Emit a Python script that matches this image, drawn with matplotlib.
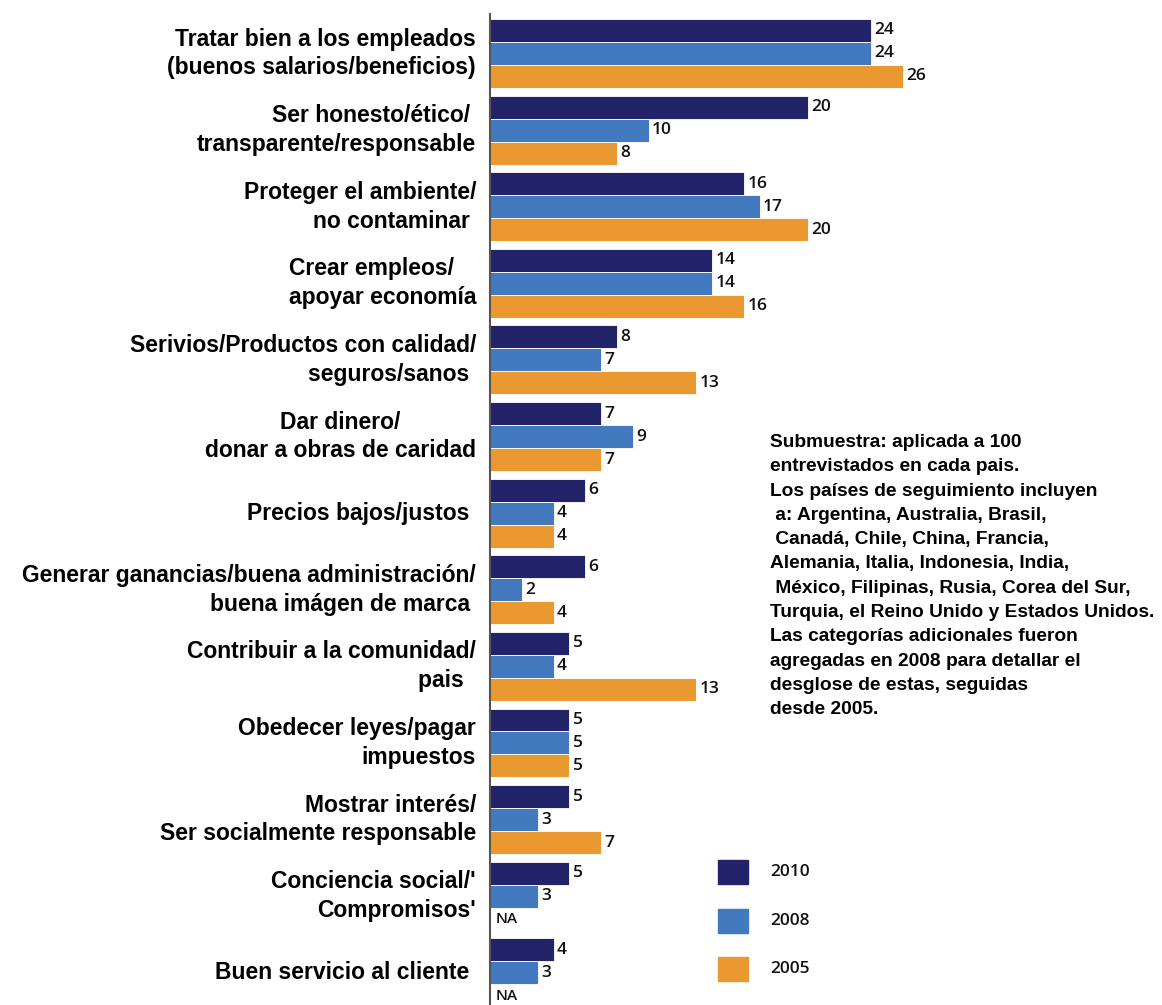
import matplotlib
matplotlib.use("Agg")
import matplotlib.pyplot as plt
import numpy as np

categories = [
    "Tratar bien a los empleados\n(buenos salarios/beneficios)",
    "Ser honesto/ético/ \ntransparente/responsable",
    "Proteger el ambiente/\nno contaminar ",
    "Crear empleos/\napoyar economía",
    "Serivios/Productos con calidad/\nseguros/sanos ",
    "Dar dinero/\ndonar a obras de caridad",
    "Precios bajos/justos ",
    "Generar ganancias/buena administración/\nbuena imágen de marca ",
    "Contribuir a la comunidad/\npais  ",
    "Obedecer leyes/pagar\nimpuestos",
    "Mostrar interés/\nSer socialmente responsable",
    "Conciencia social/'\nCompromisos'",
    "Buen servicio al cliente ",
]
label_align = ["right", "right", "right", "left", "right", "center", "right",
               "right", "right", "right", "right", "right", "right"]

years = ["2010", "2008", "2005"]
v2010 = [24, 20, 16, 14, 8, 7, 6, 6, 5, 5, 5, 5, 4]
v2008 = [24, 10, 17, 14, 7, 9, 4, 2, 4, 5, 3, 3, 3]
v2005 = [26, 8, 20, 16, 13, 7, 4, 4, 13, 5, 7, None, None]

colors = ["#232369", "#4279BF", "#EA9830"]

note = ("Submuestra: aplicada a 100\n"
        "entrevistados en cada pais.\n"
        "Los países de seguimiento incluyen\n"
        " a: Argentina, Australia, Brasil,\n"
        " Canadá, Chile, China, Francia,\n"
        "Alemania, Italia, Indonesia, India,\n"
        " México, Filipinas, Rusia, Corea del Sur,\n"
        "Turquia, el Reino Unido y Estados Unidos.\n"
        "Las categorías adicionales fueron\n"
        "agregadas en 2008 para detallar el\n"
        "desglose de estas, seguidas\n"
        "desde 2005.")

W, H = 1162, 1005
fig = plt.figure(figsize=(W / 100, H / 100), dpi=100)
ax = fig.add_axes([490 / W, 0, 1 - 490 / W - 5 / W, 1 - 14 / H])

bh = 0.3
y = np.arange(len(categories))
series = [v2010, v2008, v2005]
for k, vals in enumerate(series):
    pos = y + (k - 1) * bh
    for yi, v in zip(pos, vals):
        if v is None:
            ax.text(0.35, yi, "NA", ha="left", va="center", fontsize=11,
                    family="Open Sans", weight="semibold", color="#111111")
            continue
        ax.barh(yi, v, height=bh, color=colors[k], edgecolor="white", linewidth=0.6)
        ax.text(v + 0.2, yi, str(v), ha="left", va="center", fontsize=12.5,
                family="Open Sans", weight="semibold", color="#111111")

ax.set_xlim(0, 42)
ax.set_ylim(12.42, -0.515)
ax.set_xticks([])
ax.set_yticks([])
for s in ["top", "right", "bottom"]:
    ax.spines[s].set_visible(False)
ax.spines["left"].set_color("#555555")
ax.spines["left"].set_linewidth(1.5)

# category labels
for i, lab in enumerate(categories):
    ax.annotate(lab, xy=(0, i), xycoords="data", xytext=(-14, 0),
                textcoords="offset pixels", ha="right", va="center",
                multialignment=label_align[i], fontsize=16.5,
                family="Liberation Sans", weight="bold", linespacing=1.32)

fig.text(770 / W, 1 - 434 / H, note, ha="left", va="top", fontsize=13.8,
         family="Liberation Sans", weight="bold", linespacing=1.56)

# legend
leg_y = [872, 921, 969]
for k in range(3):
    fig.patches.append(plt.Rectangle((718 / W, 1 - (leg_y[k] + 12) / H), 30 / W, 24 / H,
                                     transform=fig.transFigure, color=colors[k]))
    fig.text(770 / W, 1 - leg_y[k] / H, years[k], ha="left", va="center",
             fontsize=12.5, family="Open Sans", weight="semibold", color="#111111")

fig.savefig("out.png", dpi=100, facecolor="white")
